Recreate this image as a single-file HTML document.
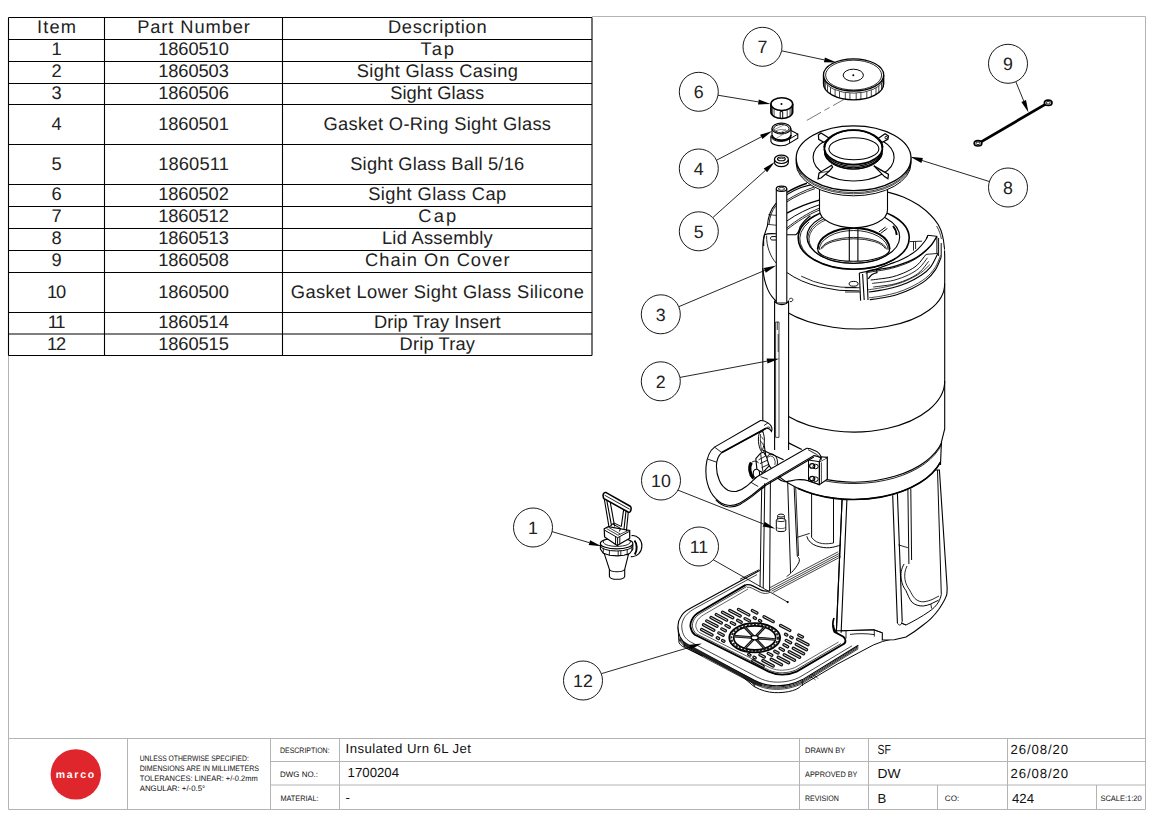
<!DOCTYPE html>
<html><head><meta charset="utf-8"><title>Insulated Urn 6L Jet</title>
<style>html,body{margin:0;padding:0;background:#fff}svg{display:block}text{white-space:pre;text-rendering:geometricPrecision}</style>
</head><body>
<svg width="1155" height="823" viewBox="0 0 1155 823">
<rect width="1155" height="823" fill="#fff"/>
<g stroke="#b4b4b4" stroke-width="1" fill="none">
<path d="M8.5 355 V809.5 H1145.5 V16.5 H592"/>
<path d="M8.5 738.5 H1145.5"/>
<path d="M127.5 738.5 V809.5 M270.5 738.5 V809.5 M339.5 738.5 V809.5 M799.5 738.5 V809.5 M868.5 738.5 V809.5 M1007.5 738.5 V809.5 M937.5 785 V809.5 M1096.5 785 V809.5"/>
<path d="M270.5 761.5 H1145.5 M270.5 785 H1145.5"/>
</g>
<g stroke="#000" stroke-width="1.1" fill="none">
<path d="M8.5 17.5H592M8.5 39.5H592M8.5 61.5H592M8.5 83.5H592M8.5 104.5H592M8.5 144.5H592M8.5 184.5H592M8.5 206.5H592M8.5 228.5H592M8.5 250.5H592M8.5 272.5H592M8.5 312.5H592M8.5 334H592M8.5 355.5H592M8.5 17.5V355.5M104.5 17.5V355.5M282.5 17.5V355.5M592 17.5V355.5"/>
</g>
<g font-family='"Liberation Sans", sans-serif' fill="#222">
<text x="37.0" y="33.4" font-size="18.3" text-anchor="start" textLength="39" lengthAdjust="spacing">Item</text>
<text x="137.2" y="33.4" font-size="18.3" text-anchor="start" textLength="112.7" lengthAdjust="spacing">Part Number</text>
<text x="387.9" y="33.4" font-size="18.3" text-anchor="start" textLength="98.7" lengthAdjust="spacing">Description</text>
<text x="56.5" y="55.4" font-size="18.3" text-anchor="middle">1</text>
<text x="158.2" y="55.4" font-size="18.3" text-anchor="start" textLength="70.6" lengthAdjust="spacing">1860510</text>
<text x="420.6" y="55.4" font-size="18.3" text-anchor="start" textLength="33.3" lengthAdjust="spacing">Tap</text>
<text x="56.5" y="77.4" font-size="18.3" text-anchor="middle">2</text>
<text x="158.2" y="77.4" font-size="18.3" text-anchor="start" textLength="70.6" lengthAdjust="spacing">1860503</text>
<text x="356.8" y="77.4" font-size="18.3" text-anchor="start" textLength="161" lengthAdjust="spacing">Sight Glass Casing</text>
<text x="56.5" y="98.9" font-size="18.3" text-anchor="middle">3</text>
<text x="158.2" y="98.9" font-size="18.3" text-anchor="start" textLength="70.6" lengthAdjust="spacing">1860506</text>
<text x="390.2" y="98.9" font-size="18.3" text-anchor="start" textLength="94" lengthAdjust="spacing">Sight Glass</text>
<text x="56.5" y="130.4" font-size="18.3" text-anchor="middle">4</text>
<text x="158.2" y="130.4" font-size="18.3" text-anchor="start" textLength="70.6" lengthAdjust="spacing">1860501</text>
<text x="323.5" y="130.4" font-size="18.3" text-anchor="start" textLength="227.5" lengthAdjust="spacing">Gasket O-Ring Sight Glass</text>
<text x="56.5" y="170.4" font-size="18.3" text-anchor="middle">5</text>
<text x="158.2" y="170.4" font-size="18.3" text-anchor="start" textLength="70.6" lengthAdjust="spacing">1860511</text>
<text x="350.2" y="170.4" font-size="18.3" text-anchor="start" textLength="174" lengthAdjust="spacing">Sight Glass Ball 5/16</text>
<text x="56.5" y="200.4" font-size="18.3" text-anchor="middle">6</text>
<text x="158.2" y="200.4" font-size="18.3" text-anchor="start" textLength="70.6" lengthAdjust="spacing">1860502</text>
<text x="368.2" y="200.4" font-size="18.3" text-anchor="start" textLength="138" lengthAdjust="spacing">Sight Glass Cap</text>
<text x="56.5" y="222.4" font-size="18.3" text-anchor="middle">7</text>
<text x="158.2" y="222.4" font-size="18.3" text-anchor="start" textLength="70.6" lengthAdjust="spacing">1860512</text>
<text x="418.2" y="222.4" font-size="18.3" text-anchor="start" textLength="38" lengthAdjust="spacing">Cap</text>
<text x="56.5" y="244.4" font-size="18.3" text-anchor="middle">8</text>
<text x="158.2" y="244.4" font-size="18.3" text-anchor="start" textLength="70.6" lengthAdjust="spacing">1860513</text>
<text x="381.9" y="244.4" font-size="18.3" text-anchor="start" textLength="110.7" lengthAdjust="spacing">Lid Assembly</text>
<text x="56.5" y="266.4" font-size="18.3" text-anchor="middle">9</text>
<text x="158.2" y="266.4" font-size="18.3" text-anchor="start" textLength="70.6" lengthAdjust="spacing">1860508</text>
<text x="365.1" y="266.4" font-size="18.3" text-anchor="start" textLength="144.4" lengthAdjust="spacing">Chain On Cover</text>
<text x="46.9" y="298.4" font-size="18.3" text-anchor="start" textLength="19.2" lengthAdjust="spacing">10</text>
<text x="158.2" y="298.4" font-size="18.3" text-anchor="start" textLength="70.6" lengthAdjust="spacing">1860500</text>
<text x="290.8" y="298.4" font-size="18.3" text-anchor="start" textLength="293" lengthAdjust="spacing">Gasket Lower Sight Glass Silicone</text>
<text x="47.8" y="328.1" font-size="18.3" text-anchor="start" textLength="17.5" lengthAdjust="spacing">11</text>
<text x="158.2" y="328.1" font-size="18.3" text-anchor="start" textLength="70.6" lengthAdjust="spacing">1860514</text>
<text x="373.9" y="328.1" font-size="18.3" text-anchor="start" textLength="126.8" lengthAdjust="spacing">Drip Tray Insert</text>
<text x="46.9" y="349.6" font-size="18.3" text-anchor="start" textLength="19.2" lengthAdjust="spacing">12</text>
<text x="158.2" y="349.6" font-size="18.3" text-anchor="start" textLength="70.6" lengthAdjust="spacing">1860515</text>
<text x="399.6" y="349.6" font-size="18.3" text-anchor="start" textLength="75.3" lengthAdjust="spacing">Drip Tray</text>
</g>
<g font-family='"Liberation Sans", sans-serif' fill="#111">
<text x="139.7" y="760.7" font-size="7.9" text-anchor="start" textLength="109.1" lengthAdjust="spacingAndGlyphs">UNLESS OTHERWISE SPECIFIED:</text>
<text x="139.7" y="770.9" font-size="7.9" text-anchor="start" textLength="119.3" lengthAdjust="spacingAndGlyphs">DIMENSIONS ARE IN MILLIMETERS</text>
<text x="139.7" y="781" font-size="7.9" text-anchor="start" textLength="118.0" lengthAdjust="spacingAndGlyphs">TOLERANCES: LINEAR: +/-0.2mm</text>
<text x="139.7" y="791" font-size="7.9" text-anchor="start" textLength="65.5" lengthAdjust="spacingAndGlyphs">ANGULAR: +/-0.5°</text>
<text x="280" y="752.8" font-size="7.9" text-anchor="start" textLength="49.6" lengthAdjust="spacingAndGlyphs">DESCRIPTION:</text>
<text x="280" y="777" font-size="7.9" text-anchor="start" textLength="38" lengthAdjust="spacingAndGlyphs">DWG NO.:</text>
<text x="280.4" y="801" font-size="7.9" text-anchor="start" textLength="38.2" lengthAdjust="spacingAndGlyphs">MATERIAL:</text>
<text x="345.6" y="753" font-size="13.2" text-anchor="start" textLength="125.4" lengthAdjust="spacing">Insulated Urn 6L Jet</text>
<text x="347.6" y="776.7" font-size="13.2" text-anchor="start" textLength="51.4" lengthAdjust="spacing">1700204</text>
<text x="345.6" y="801.5" font-size="13.2" text-anchor="start">-</text>
<text x="805" y="752.7" font-size="7.9" text-anchor="start" textLength="40.3" lengthAdjust="spacingAndGlyphs">DRAWN BY</text>
<text x="805" y="776.9" font-size="7.9" text-anchor="start" textLength="52.5" lengthAdjust="spacingAndGlyphs">APPROVED BY</text>
<text x="805" y="801" font-size="7.9" text-anchor="start" textLength="33.8" lengthAdjust="spacingAndGlyphs">REVISION</text>
<text x="877.6" y="753.8" font-size="13.2" text-anchor="start" textLength="13.3" lengthAdjust="spacingAndGlyphs">SF</text>
<text x="877.6" y="777.8" font-size="13.2" text-anchor="start" textLength="23.0" lengthAdjust="spacingAndGlyphs">DW</text>
<text x="877.6" y="802.6" font-size="13.2" text-anchor="start">B</text>
<text x="944.8" y="801" font-size="7.9" text-anchor="start" textLength="14.4" lengthAdjust="spacingAndGlyphs">CO:</text>
<text x="1010.6" y="754.4" font-size="13.2" text-anchor="start" textLength="57.4" lengthAdjust="spacing">26/08/20</text>
<text x="1010.6" y="778.4" font-size="13.2" text-anchor="start" textLength="57.4" lengthAdjust="spacing">26/08/20</text>
<text x="1012" y="802.6" font-size="13.2" text-anchor="start" textLength="22" lengthAdjust="spacing">424</text>
<text x="1100.4" y="801" font-size="7.9" text-anchor="start" textLength="41.3" lengthAdjust="spacingAndGlyphs">SCALE:1:20</text>
</g>
<circle cx="75.8" cy="774.4" r="25.2" fill="#e0262d"/>
<text x="75.8" y="777.6" font-family='"Liberation Sans", sans-serif' font-weight="bold" font-size="10.5" fill="#fff" text-anchor="middle" letter-spacing="1.7">marco</text>
<path d="M678 626.8L679 642.7C680.5 646.4 683 649 686.9 650.7L754.7 686.6C761 690.4 768 692.4 774.6 692.6C780 692.8 784.6 692.4 788.6 691.6C794 690.6 798.6 688.8 802.5 686.6L882.3 642.7V636L758.7 571L690.9 607.9Z" fill="#fff" stroke="none" stroke-width="0"/>
<path d="M678 626.8L679 642.7C680.5 645 682 646.4 684.2 647.2L702.8 656M740 674.6L754.2 686.6C761 690.4 768 692.4 774.6 692.6C780 692.8 784.6 692.4 788.6 691.6C794 690.6 798.6 688.8 801.5 685.4L837.5 664L873.5 644.9L882.5 641.5L900 637" fill="none" stroke="#000" stroke-width="0.98"/>
<path d="M754.7 680.6V686.6M802.5 679.6V686M684.4 643V647" fill="none" stroke="#000" stroke-width="0.73"/>
<path d="M754.7 686.6C753 683 750 680 746 678.6M806 673C812 674 816 676 818 678.6M809 676.6C812 677.6 814 678.6 815.6 680" fill="none" stroke="#000" stroke-width="0.73"/>
<path d="M758.7 571L690.9 607.9C685 611 682 614 680.9 616.8C678.6 620 677.8 623.4 678 626.8C678 630.6 678.6 633.8 680 636.8C681.6 640 684 642.6 686.9 644.7L754.7 680.6C760.6 683.6 766.6 685.2 772.6 685.6C778 686 783.6 685.6 788.6 684.6C794 683.4 798.6 681.8 802.5 679.6L858.3 645.2" fill="#fff" stroke="#000" stroke-width="1.1"/>
<path d="M679.6 637.8C681.6 641.2 684 643.8 686.9 645.9L754.7 681.8C760.6 684.8 766.6 686.4 772.6 686.8C778 687.2 783.6 686.8 788.6 685.8C794 684.6 798.6 683 802.5 680.8L858.3 646.4" fill="none" stroke="#000" stroke-width="0.85"/>
<path d="M679.3 638.7C681.6 642.4 684 645 686.9 647.1L754.7 683C760.6 686 766.6 687.6 772.6 688C778 688.4 783.6 688 788.6 687C794 685.8 798.6 684.2 802.5 682L858.3 647.6" fill="none" stroke="#000" stroke-width="0.85"/>
<path d="M678.9 639.7C681.6 643.6 684 646.2 686.9 648.3L754.7 684.2C760.6 687.2 766.6 688.8 772.6 689.2C778 689.6 783.6 689.2 788.6 688.2C794 687 798.6 685.4 802.5 683.2L858.3 648.8" fill="none" stroke="#000" stroke-width="0.73"/>
<path d="M683 641.4L754.7 680.6C757 681.8 759 682.6 761 683.4L761.6 686C759 685.4 756.6 684.6 754.2 683.6L684.6 645.6Z" fill="#222" stroke="#000" stroke-width="0.49"/>
<path d="M757 574.6L694.6 608.6C688 612.4 685 616 683.6 619C682 622 681.6 625 681.8 627.6C682 631 683 634 684.6 636.6C686 638.6 688 640.4 690.4 641.8L757 677C763 680 768 681.6 773.6 682C779 682.4 784 682 788.6 681C793.6 680 797.6 678.4 801 676.4L852 645.8" fill="none" stroke="#000" stroke-width="0.73"/>
<path d="M745.7 584.9L699.9 611.8C695.6 614.2 693.2 616.8 691.9 619.8C690.6 622.2 690.2 624.6 690.5 626.8C691 630 692.4 632.6 694.9 634.8L768.6 671.6C773.6 673.8 778 674.8 782.6 674.6C788 674.4 792.6 673.4 796.6 671.6L842.4 644.7C844.6 643.6 845.6 642.2 845.4 640.7C845.4 639 844.6 637.8 843.4 636.8L834.4 631.8C833.4 629.6 833.2 627 833.4 624.8" fill="none" stroke="#000" stroke-width="1.83"/>
<path d="M748 589L703.6 614.8C700 617 698 619.2 696.8 621.6C696 623.4 695.6 625.2 695.9 626.8C696.4 629 697.4 630.8 699.2 632.4L770.2 667.8C774.4 669.6 778.6 670.4 782.6 670.2C787.4 670 791.4 669 794.8 667.6L838.6 642" fill="none" stroke="#000" stroke-width="0.61"/>
<path d="M746.6 586.6L701 613C697 615.4 695 617.8 693.6 620.4C692.6 622.6 692.2 624.8 692.5 626.8C693 629.6 694.2 631.8 696.4 633.8L769.2 670.2C773.8 672.2 778.2 673 782.6 672.8C787.8 672.6 792.2 671.6 795.8 670L841 643.6" fill="none" stroke="#000" stroke-width="0.73"/>
<path d="M745.7 584.9C748 584.4 750.6 584.8 752.7 585.9L760.7 589.9C763.6 591.2 766 591.4 768.6 590.9L770.5 589.7" fill="none" stroke="#000" stroke-width="1.22"/>
<path d="M747 587.4C749 587 750.6 587.4 752.4 588.4L760.4 592.4C763.6 593.8 767 593.8 770 592.4" fill="none" stroke="#000" stroke-width="0.73"/>
<path d="M758.7 571L770 566" fill="none" stroke="#000" stroke-width="0.98"/>
<path d="M701.6 629.5L712 635M703.5 624.8L713.8 630.3M706.7 620.9L717 626.3M711 617.5L721.3 623M716.3 614.6L726.6 620.1M722.5 612.3L732.8 617.7M729.8 610.5L740.2 616M738.5 609.4L748.8 614.9M752.8 660.8L763.1 666.3M762.9 660.5L773.2 666M771.2 659.3L781.5 664.7M778.2 657.3L788.6 662.8M784.2 654.8L794.5 660.3M789.2 651.8L799.6 657.3M793.3 648.3L803.6 653.8M796.2 644.2L806.5 649.7M797.6 639.3L808 644.8M752.4 610.6L756.9 613M764 616.7L773.2 621.6M780.6 625.5L789.8 630.4M798.8 635.1L802.4 637M717.3 637.8L718.6 638.5M722.6 640.6L723.9 641.3M748.7 654.4L749.9 655.1M754 657.2L755.2 657.9M718.8 632.9L723.2 635.2M759.9 654.7L764.3 657M721.8 628.9L725.4 630.8M768.2 653.4L771.8 655.3M726 625.4L729.3 627.2M774.8 651.3L778.1 653M731.3 622.6L734.6 624.3M780.1 648.4L783.4 650.2M737.6 620.3L741.2 622.2M784 644.8L787.6 646.7M745.1 618.6L749.5 620.9M786.2 640.4L790.6 642.7M754.2 617.7L755.4 618.4M759.5 620.5L760.7 621.2M785.5 634.3L786.8 635M790.8 637.1L792.1 637.8" fill="none" stroke="#111" stroke-width="3.3" stroke-linecap="round"/>
<path d="M701.6 629.5L712 635M703.5 624.8L713.8 630.3M706.7 620.9L717 626.3M711 617.5L721.3 623M716.3 614.6L726.6 620.1M722.5 612.3L732.8 617.7M729.8 610.5L740.2 616M738.5 609.4L748.8 614.9M752.8 660.8L763.1 666.3M762.9 660.5L773.2 666M771.2 659.3L781.5 664.7M778.2 657.3L788.6 662.8M784.2 654.8L794.5 660.3M789.2 651.8L799.6 657.3M793.3 648.3L803.6 653.8M796.2 644.2L806.5 649.7M797.6 639.3L808 644.8M752.4 610.6L756.9 613M764 616.7L773.2 621.6M780.6 625.5L789.8 630.4M798.8 635.1L802.4 637M717.3 637.8L718.6 638.5M722.6 640.6L723.9 641.3M748.7 654.4L749.9 655.1M754 657.2L755.2 657.9M718.8 632.9L723.2 635.2M759.9 654.7L764.3 657M721.8 628.9L725.4 630.8M768.2 653.4L771.8 655.3M726 625.4L729.3 627.2M774.8 651.3L778.1 653M731.3 622.6L734.6 624.3M780.1 648.4L783.4 650.2M737.6 620.3L741.2 622.2M784 644.8L787.6 646.7M745.1 618.6L749.5 620.9M786.2 640.4L790.6 642.7M754.2 617.7L755.4 618.4M759.5 620.5L760.7 621.2M785.5 634.3L786.8 635M790.8 637.1L792.1 637.8" fill="none" stroke="#e4e4e4" stroke-width="0.92" stroke-linecap="round"/>
<ellipse cx="754.7" cy="637.8" rx="25.4" ry="14.6" fill="#fff" stroke="#000" stroke-width="1.83"/>
<ellipse cx="754.7" cy="637.8" rx="23.3" ry="13.3" fill="none" stroke="#222" stroke-width="2" stroke-dasharray="2.2 1.4"/>
<ellipse cx="754.7" cy="637.8" rx="21" ry="12" fill="none" stroke="#000" stroke-width="1.71"/>
<path d="M757.7 638.1L775.5 639.5M756.1 639.4L764.6 648.4M753.3 639.4L744.8 648.4M751.7 637.5L733.9 636.1M753.3 636.2L744.8 627.2M756.1 636.2L764.6 627.2" fill="none" stroke="#111" stroke-width="2.7"/>
<path d="M757.7 638.1L775.5 639.5M756.1 639.4L764.6 648.4M753.3 639.4L744.8 648.4M751.7 637.5L733.9 636.1M753.3 636.2L744.8 627.2M756.1 636.2L764.6 627.2" fill="none" stroke="#888" stroke-width="0.73"/>
<ellipse cx="754.7" cy="637.8" rx="3.6" ry="2.1" fill="#fff" stroke="#000" stroke-width="1.22"/>
<path d="M939.4 470L947.1 586.9C947.2 592 946.4 596 946.1 596.4C944 602 941 606 938.5 609.8C934 616 929 621 923.2 625C917 630 911 634 906 637L894.2 639.7L882.3 640V632.8L874 629.8L842 630.8L836.4 630.8L842.1 499L850 470Z" fill="#fff" stroke="#000" stroke-width="1.1"/>
<path d="M937.5 470L941.3 594.5C940.5 598 939.6 600 938.5 602.1C936 606 933 609 928.9 611.7C922 616.5 914 621 906 625L901.3 623.1" fill="none" stroke="#000" stroke-width="0.98"/>
<path d="M904.1 564C901 569 900.5 574 901.3 579.2C902 584 903.5 587.5 906 590.7C907.8 595 909.5 599 911.8 602.1C915 605 919 606.2 923.2 606C926 605.6 928.5 605 930.8 604L938.5 600.2" fill="none" stroke="#000" stroke-width="0.98"/>
<path d="M907 566C904.6 571 904.4 575 905 579.6C905.8 584 907.4 587 909.6 590C911.4 593.6 913 596.4 915 598.6C917.6 601 920.6 602 924 601.8C927 601.4 929.6 600.6 932 599.6L939 596" fill="none" stroke="#000" stroke-width="0.85"/>
<path d="M930.8 604L931.6 608.5M898.4 544.9L907.9 547.7" fill="none" stroke="#000" stroke-width="0.85"/>
<path d="M907.9 489.5L908.9 564M910.8 488.6L911.6 560" fill="none" stroke="#000" stroke-width="0.98"/>
<path d="M842.1 499.1L836.4 630.8M846.9 500L841.1 632.7M892.7 495.3L897.4 623.1M897.4 493.4L902.2 621.2" fill="none" stroke="#000" stroke-width="1.1"/>
<path d="M897.4 623.1C899 626 901.5 626 902.2 621.2M901.3 623.1L906 625" fill="none" stroke="#000" stroke-width="0.85"/>
<path d="M841.1 630.8L873.6 629.8L882.3 632.8M846 631V638.6M874.3 630V636.6M850 634.4C858 633.4 866 633.4 874.3 634.6" fill="none" stroke="#000" stroke-width="0.85"/>
<path d="M834 618C832.5 622 832.6 626 834 629C835 631 836 632.4 837.3 632.7" fill="none" stroke="#000" stroke-width="1.71"/>
<path d="M811.6 491.5V537.3M833.5 497V543" fill="none" stroke="#000" stroke-width="0.98"/>
<path d="M806.8 536.3C808 541 812 544.4 816.3 545.8C821 547.4 825.5 548 829.7 547.7C834 547.2 838 546 841 544.9" fill="none" stroke="#000" stroke-width="0.98"/>
<path d="M811.6 537.3C814 541 818 543 822.5 543.6C826.5 544 830.5 543.6 833.5 543" fill="none" stroke="#000" stroke-width="0.85"/>
<path d="M762 470L760 586.9L769.6 590.7L770.5 470Z" fill="#fff" stroke="none" stroke-width="0"/>
<path d="M787.3 470L790.6 573.5L797.3 560L793.4 470Z" fill="#fff" stroke="none" stroke-width="0"/>
<path d="M762 470L760 586.9M770.5 470L769.6 590.7M765 470L763.2 588" fill="none" stroke="#000" stroke-width="0.98"/>
<path d="M787.3 470L790.6 573.5M793.4 470L797.3 556.3C799.6 558 800 560.5 798.6 563C797 566 794.5 569.5 791.5 572.5" fill="none" stroke="#000" stroke-width="0.98"/>
<path d="M795 470L798.6 556M790.6 573.5L786.6 576.6" fill="none" stroke="#000" stroke-width="0.85"/>
<path d="M770.5 589.7L839.2 553.5M771.6 591.2L840.2 555M772.8 592.6L841 556.6M770 587.6L838.2 551.8" fill="none" stroke="#000" stroke-width="0.73"/>
<path d="M797.3 537.3L809.7 533.4M740 579.2L759.1 569.7" fill="none" stroke="#000" stroke-width="0.85"/>
<path d="M762.8 436V248C762.8 242 763.4 238 764.5 234.7L767.4 226C768 216 771 209 775.8 203.6C783 196 792 191 801 187.5C830 178 866 182 887.8 192.1C893 193.4 898 195 903.3 197C909 199.4 914 202 918.9 205.3C923 208.2 927 211.4 930.5 215C933.6 218 936 221.2 938.3 224.7C940 227.8 941.4 231 942.2 234.4C943.4 238.6 944 243 944.4 248L944.7 256V429L941.4 442L940.5 465L940.5 462.1A91 53.5 0 0 1 766.7 461.6Z" fill="#fff" stroke="#000" stroke-width="1.1"/>
<path d="M940.5 462.1A91 53.5 0 0 1 797.7 488.2" fill="none" stroke="#000" stroke-width="1.59"/>
<path d="M941.8 442.3A91 53 0 0 1 819.6 478.1" fill="none" stroke="#000" stroke-width="1.1"/>
<path d="M941.6 444.3A91 53 0 0 1 819.6 479.7" fill="none" stroke="#000" stroke-width="0.85"/>
<path d="M944.7 381A91 51 0 0 1 787.1 415.8" fill="none" stroke="#000" stroke-width="1.1"/>
<path d="M944.6 283.5A91 47 2 0 1 786.1 311.7" fill="none" stroke="#000" stroke-width="1.1"/>
<path d="M762.8 268C764 282 768 295 777.4 302" fill="none" stroke="#000" stroke-width="1.1"/>
<path d="M859.7 290.9A86 50 0 0 1 786.9 272.5" fill="none" stroke="#000" stroke-width="0.98"/>
<path d="M856.5 287.6A80 46.6 0 0 1 801.2 276.2" fill="none" stroke="#000" stroke-width="0.85"/>
<path d="M936.6 226C939 230 940.6 234.4 941.4 239" fill="none" stroke="#000" stroke-width="0.73"/>
<path d="M787 192.3C793 188.6 800 185.6 806.9 183.2" fill="none" stroke="#000" stroke-width="1.46"/>
<path d="M787 200.1C795 195 804 190.6 813.9 187.1M787 201.8C795 196.6 805 192 815 188.6" fill="none" stroke="#000" stroke-width="0.85"/>
<path d="M787 213.1C797 207.5 808 203.2 819.1 200.1" fill="none" stroke="#000" stroke-width="1.46"/>
<path d="M787 220.9C797 214 808 208.5 819.1 204.9" fill="none" stroke="#000" stroke-width="0.98"/>
<path d="M787 227.8C797 220 808 212.8 819.1 208.3M787 229.6C797 221.8 808 214.6 819.1 210.2" fill="none" stroke="#000" stroke-width="0.85"/>
<path d="M769 224.4C769.6 216.6 772 210.4 776 205.6" fill="none" stroke="#000" stroke-width="0.85"/>
<path d="M768.4 214.6L776 215.4M767.8 224.4L776 225.2" fill="none" stroke="#000" stroke-width="0.73"/>
<path d="M787 234.7H795.7C798.6 233.6 799.2 230 800 227C802.5 222.6 806 219 810.4 215.7" fill="none" stroke="#000" stroke-width="1.1"/>
<path d="M776 233.8C771 233.4 767 233.6 764.5 234.7C763.6 238 763.3 242 763.7 246" fill="none" stroke="#000" stroke-width="1.1"/>
<path d="M776 236.6H771.8C770 237 770 239.6 771.8 240H776" fill="none" stroke="#000" stroke-width="0.98"/>
<path d="M766.6 235.6C766.4 246 770 256 776 263" fill="none" stroke="#000" stroke-width="0.85"/>
<ellipse cx="853.7" cy="238" rx="55.5" ry="31.2" fill="#fff" stroke="#000" stroke-width="1.59"/>
<path d="M895.3 258.7A54.3 30.4 0 0 1 809.2 221.8" fill="none" stroke="#000" stroke-width="0.85"/>
<ellipse cx="853.3" cy="237" rx="46.4" ry="26.5" fill="none" stroke="#000" stroke-width="1.1"/>
<path d="M824.1 257.8A45.4 25.6 0 0 1 837.8 214.1" fill="none" stroke="#000" stroke-width="0.85"/>
<path d="M815 251.5A44.2 24.6 0 0 1 827.9 219" fill="none" stroke="#000" stroke-width="0.73"/>
<path d="M817.7 249A36 21 0 0 1 889.7 249" fill="none" stroke="#000" stroke-width="1.83"/>
<path d="M819.2 250A34.5 19.5 0 0 1 888.2 250" fill="none" stroke="#000" stroke-width="0.85"/>
<path d="M820.8 249.4A33 13 0 0 1 886.6 249.4" fill="none" stroke="#000" stroke-width="0.85"/>
<path d="M822.2 248.5A32 11.8 0 0 1 885.2 248.5" fill="none" stroke="#000" stroke-width="0.85"/>
<path d="M889.7 249A36 12.3 0 0 1 817.7 249" fill="none" stroke="#000" stroke-width="1.1"/>
<path d="M889.7 251.5A36.6 14.2 0 0 1 817.7 251.5" fill="none" stroke="#000" stroke-width="0.85"/>
<path d="M849.3 229.2V261M857.9 229.2V261" fill="none" stroke="#000" stroke-width="1.1"/>
<path d="M878.9 232L885.7 227M880.6 233.4L887.4 228.4" fill="none" stroke="#000" stroke-width="0.98"/>
<path d="M893 226C895.5 229 896.5 232 896.6 235" fill="none" stroke="#000" stroke-width="1.83"/>
<ellipse cx="853.6" cy="283.8" rx="4.5" ry="2.4" fill="none" stroke="#000" stroke-width="0.98"/>
<path d="M936.9 236.3C935.9 237.9 933.3 242.8 930.7 245.8C928.1 248.8 924.4 252 921.2 254.4C918 256.8 914.9 258.5 911.7 260.1C908.5 261.7 905.3 262.8 902.1 263.9C898.9 265 895.8 266 892.6 266.8C889.4 267.6 886.3 268.1 883.1 268.7C879.9 269.2 876.3 269.6 873.6 270.1C870.9 270.6 868 271.3 866.9 271.5L859.3 273L859.6 301L869.8 299.6C872 299.3 878.5 298.6 883.1 297.7C887.7 296.8 892.6 295.9 897.4 294.4C902.2 292.9 906.9 291.1 911.7 288.7C916.5 286.3 922 283.3 926 280.1C930 276.9 933 273.4 935.5 269.6C938 265.8 940.2 259.3 941.2 257.2L944.7 250Z" fill="#fff" stroke="none" stroke-width="0"/>
<path d="M936.9 236.3C935.9 237.9 933.3 242.8 930.7 245.8C928.1 248.8 924.4 252 921.2 254.4C918 256.8 914.9 258.5 911.7 260.1C908.5 261.7 905.3 262.8 902.1 263.9C898.9 265 895.8 266 892.6 266.8C889.4 267.6 886.3 268.1 883.1 268.7C879.9 269.2 876.3 269.6 873.6 270.1C870.9 270.6 868 271.3 866.9 271.5" fill="none" stroke="#000" stroke-width="1.34"/>
<path d="M929.4 247.4C927.8 248.8 923.1 253.6 919.9 256C916.7 258.4 913.6 260.1 910.4 261.7C907.2 263.3 904 264.4 900.8 265.5C897.6 266.6 894.5 267.6 891.3 268.4C888.1 269.2 885 269.8 881.8 270.3C878.6 270.9 875 271.2 872.3 271.7C869.6 272.2 866.7 272.9 865.6 273.1" fill="none" stroke="#000" stroke-width="0.85"/>
<path d="M927.9 235.3C927.4 236.2 926.8 238.6 925 241C923.2 243.4 920.2 247 917.4 249.6C914.5 252.2 911.1 254.4 907.9 256.3C904.7 258.2 901.5 259.6 898.3 261C895.1 262.4 892.4 263 888.8 264.4C885.1 265.8 878.5 268.3 876.4 269.1" fill="none" stroke="#000" stroke-width="1.1"/>
<path d="M926 254.4C924.6 256.1 920.6 262 917.4 264.9C914.2 267.8 911 269.5 906.9 271.5C902.8 273.5 897.4 275.5 892.6 276.8C887.8 278.1 881.9 278.6 878.3 279.1C874.6 279.6 872 279.9 870.7 280" fill="none" stroke="#000" stroke-width="0.98"/>
<path d="M927.5 257.8C926.1 259.6 922.1 265.4 918.9 268.3C915.7 271.1 912.5 272.9 908.4 274.9C904.3 276.9 898.9 278.9 894.1 280.2C889.3 281.5 883.4 282 879.8 282.5C876.1 283 873.5 283.2 872.2 283.4" fill="none" stroke="#000" stroke-width="0.85"/>
<path d="M928.6 261.4C927.2 263.1 923.2 269 920 271.9C916.8 274.8 913.6 276.5 909.5 278.5C905.4 280.5 900 282.5 895.2 283.8C890.4 285.1 884.5 285.6 880.9 286.1C877.2 286.6 874.6 286.9 873.3 287" fill="none" stroke="#000" stroke-width="0.85"/>
<path d="M937.9 253.4C936.7 255.6 933.5 263.2 930.7 266.8C927.9 270.4 925.2 272.6 921.2 275.3C917.2 278 911.7 280.9 906.9 283C902.1 285.1 897.4 286.4 892.6 287.7C887.8 289 882.3 289.9 878.3 290.6C874.3 291.3 870.4 291.8 868.8 292" fill="none" stroke="#000" stroke-width="1.1"/>
<path d="M929.9 264.6C928.3 266 924.4 270.4 920.4 273.1C916.4 275.8 910.9 278.7 906.1 280.8C901.3 282.9 896.6 284.2 891.8 285.5C887 286.8 881.5 287.7 877.5 288.4C873.5 289.1 869.6 289.6 868 289.8" fill="none" stroke="#000" stroke-width="0.73"/>
<path d="M941.2 257.2C940.2 259.3 938 265.8 935.5 269.6C933 273.4 930 276.9 926 280.1C922 283.3 916.5 286.3 911.7 288.7C906.9 291.1 902.2 292.9 897.4 294.4C892.6 295.9 887.7 296.8 883.1 297.7C878.5 298.6 872 299.3 869.8 299.6" fill="none" stroke="#000" stroke-width="1.1"/>
<path d="M940.6 255.4C939.6 257.5 937.4 264 934.9 267.8C932.4 271.6 929.4 275.1 925.4 278.3C921.4 281.5 915.9 284.5 911.1 286.9C906.3 289.3 901.6 291.1 896.8 292.6C892 294.1 887.1 295 882.5 295.9C877.9 296.8 871.4 297.5 869.2 297.8" fill="none" stroke="#000" stroke-width="0.73"/>
<path d="M927.9 235.3L936.9 236.3M936.9 236.3V253M938.6 238V256M941.2 243V257.2M927.9 235.3L926.6 238.6" fill="none" stroke="#000" stroke-width="0.98"/>
<path d="M926 254.4L937.9 253.4" fill="none" stroke="#000" stroke-width="0.85"/>
<path d="M909.6 241.6L922 241.2M913.5 241.5V250.6M915.6 241.5V249" fill="none" stroke="#000" stroke-width="0.85"/>
<path d="M859.3 273L866.9 271.5L868 300M859.3 273L860.6 300.6M862.6 274L864.2 300M866.9 271.5C870 270 873.5 269.6 876.4 269.1L877 272.6C873 273.4 870 275.5 868.3 279" fill="none" stroke="#000" stroke-width="1.1"/>
<path d="M845 287.7H859.8M845 292H860.2" fill="none" stroke="#000" stroke-width="0.85"/>
<path d="M819.5 180V210A34 17.8 0 0 0 887.5 210V180Z" fill="#fff" stroke="#000" stroke-width="1.1"/>
<path d="M796.2 158.2V163.4A57.4 32.4 0 0 0 911 163.4V158.2Z" fill="#fff" stroke="#000" stroke-width="0.98"/>
<path d="M910.9 162.1A57.4 32.4 0 0 1 796.3 162.1" fill="none" stroke="#000" stroke-width="0.73"/>
<path d="M910.9 163.3A57.4 32.4 0 0 1 796.3 163.3" fill="none" stroke="#000" stroke-width="0.73"/>
<ellipse cx="853.6" cy="158.2" rx="57.4" ry="32.4" fill="#fff" stroke="#000" stroke-width="1.22"/>
<ellipse cx="853.6" cy="157.4" rx="40.5" ry="23.6" fill="none" stroke="#000" stroke-width="1.1"/>
<path d="M818.4 134.9L821 133L829.8 138.4L823.8 142.2L818.7 139.4Z" fill="#fff" stroke="#000" stroke-width="1.22"/>
<path d="M821 133L826.5 136.6" fill="none" stroke="#000" stroke-width="0.12"/>
<path d="M877.8 138.8L885.1 133.8L888.5 136L887.9 139.4L882.3 142.2Z" fill="#fff" stroke="#000" stroke-width="1.22"/>
<ellipse cx="886.2" cy="137.6" rx="1.2" ry="1.4" fill="none" stroke="#000" stroke-width="0.98"/>
<path d="M831.6 165.3L819 173.1L818.1 178.8L821 178L829.4 171L832.6 167.2Z" fill="#fff" stroke="#000" stroke-width="1.22"/>
<path d="M819 173.1L829.4 171" fill="none" stroke="#000" stroke-width="0.73"/>
<path d="M873.8 165.8L888.5 174.3L887.9 178.8L884.5 176.6L876.6 168.6Z" fill="#fff" stroke="#000" stroke-width="1.22"/>
<path d="M888.5 174.3L878 169" fill="none" stroke="#000" stroke-width="0.73"/>
<ellipse cx="853.4" cy="149.6" rx="29.1" ry="19.4" fill="#fff" stroke="#000" stroke-width="1.22"/>
<path d="M882.4 145.9A29.1 17.2 0 1 1 824.4 145.9" fill="none" stroke="#000" stroke-width="1.59"/>
<path d="M882.2 151.4A29.1 17.2 0 0 1 824.6 151.4" fill="none" stroke="#000" stroke-width="1.1"/>
<path d="M882.2 153A29.1 17.2 0 0 1 824.6 153" fill="none" stroke="#000" stroke-width="1.1"/>
<path d="M882.2 154.4A29.1 17.2 0 0 1 824.6 154.4" fill="none" stroke="#000" stroke-width="0.98"/>
<path d="M824.3 147.4A29.1 17.2 0 0 1 882.5 147.4" fill="none" stroke="#000" stroke-width="1.83"/>
<ellipse cx="853.9" cy="148.7" rx="25" ry="11" fill="none" stroke="#000" stroke-width="1.1"/>
<path d="M776.3 188.8V303H786.8V188.8Z" fill="#fff" stroke="#000" stroke-width="1.1"/>
<ellipse cx="781.5" cy="188.8" rx="5.2" ry="2.7" fill="#fff" stroke="#000" stroke-width="1.1"/>
<ellipse cx="781.5" cy="188.9" rx="3.1" ry="1.4" fill="none" stroke="#000" stroke-width="0.85"/>
<path d="M774.6 300.6C775.5 303 778.5 304.6 781.9 304.6C785 304.6 787.6 303.2 788.6 300.6V450H774.6Z" fill="#fff" stroke="none" stroke-width="0"/>
<path d="M774.6 450V300.6C775.5 303 778.5 304.6 781.9 304.6C785 304.6 787.6 303.2 788.6 300.6V450" fill="none" stroke="#000" stroke-width="1.1"/>
<path d="M789 299.4C790.6 297.6 792.6 298 792.8 299.6C792.9 301 791.6 302 790 301.6" fill="none" stroke="#000" stroke-width="0.85"/>
<path d="M775.6 437.4V322H779V437.4ZM777.3 322V330M778.2 334V352" fill="none" stroke="#000" stroke-width="0.73"/>
<path d="M776.3 520V530A4.7 1.6 0 0 0 785.8 530V520" fill="#fff" stroke="#000" stroke-width="0.98"/>
<path d="M785.7 520A4.7 1.6 0 1 1 776.3 520A4.7 1.6 0 1 1 785.7 520Z" fill="#fff" stroke="#000" stroke-width="0.85"/>
<path d="M777.6 516V519.6M784.4 516V519.6" fill="none" stroke="#000" stroke-width="0.85"/>
<ellipse cx="781" cy="515.6" rx="3.4" ry="1.5" fill="#fff" stroke="#000" stroke-width="0.98"/>
<path d="M785.7 527A4.7 1.6 0 0 1 776.3 527" fill="none" stroke="#000" stroke-width="0.61"/>
<path d="M763 450.2L783.6 459.8M788.5 442.9L801.8 449.5" fill="none" stroke="#000" stroke-width="1.22"/>
<path d="M766.3 466.5A6 8.4 0 1 1 776.1 467.7" fill="none" stroke="#000" stroke-width="0.98"/>
<path d="M766.3 464.9A4.6 6.6 0 1 1 774.9 464.9" fill="none" stroke="#000" stroke-width="0.73"/>
<path d="M759.6 432.4C757.6 437 758 446 761.4 451.6C764.6 447 765.6 437 762.6 431.6Z" fill="#fff" stroke="#000" stroke-width="0.98"/>
<path d="M760.6 434C760 440 760.6 446 761.6 450M761.4 436.6L763.4 439.6M760.4 440.6L763.4 445" fill="none" stroke="#000" stroke-width="0.73"/>
<path d="M755.8 458.6L760.6 453.2L763.6 452L766.7 457.4L769.1 465.9L763 472.4L757 470Z" fill="#fff" stroke="#000" stroke-width="1.1"/>
<path d="M758.6 459.8L765.4 456.2M760 463.6L767.4 460.2M761.6 467.6L768.6 464.4M760.6 453.2L762.8 471" fill="none" stroke="#000" stroke-width="0.85"/>
<path d="M751.3 462.6C748.6 467 749.6 474.6 753.6 478.4" fill="none" stroke="#000" stroke-width="3.2"/>
<path d="M751.6 462.4C754 460.4 757.6 461 758.6 463.2M753.8 478.6C756.6 479.2 759.6 477.6 760.6 475.2" fill="none" stroke="#000" stroke-width="0.98"/>
<ellipse cx="756.4" cy="473.4" rx="3.2" ry="4.2" fill="#fff" stroke="#000" stroke-width="1.1"/>
<path d="M808.5 460L819.4 461.7V484.7L808.5 481Z" fill="#fff" stroke="#000" stroke-width="0.98"/>
<path d="M819.4 461.7L827.3 457.4V479.2L819.4 484.7Z" fill="#fff" stroke="#000" stroke-width="1.22"/>
<path d="M819.4 461.7L821.2 456.8L827.3 457.4" fill="#fff" stroke="#000" stroke-width="1.1"/>
<path d="M821.4 462.4V483.4" fill="none" stroke="#000" stroke-width="0.73"/>
<ellipse cx="812.2" cy="465.9" rx="2.6" ry="2.3" fill="none" stroke="#000" stroke-width="1.22"/>
<ellipse cx="815.6" cy="466.5" rx="2.6" ry="2.3" fill="none" stroke="#000" stroke-width="0.98"/>
<ellipse cx="812.2" cy="478.6" rx="2.6" ry="2.3" fill="none" stroke="#000" stroke-width="1.22"/>
<ellipse cx="815.6" cy="479.2" rx="2.6" ry="2.3" fill="none" stroke="#000" stroke-width="0.98"/>
<path d="M819.4 484.7C816 483.4 812 481.6 809.1 481.1C805 479.8 801 479.4 797 479.8C792 480.6 788 481.6 784.8 481.7C781 481 779 479.4 777.6 478" fill="none" stroke="#000" stroke-width="1.1"/>
<path d="M760.6 420.5L714.5 447.1C710 450.5 707 457 706.1 465.9C705.6 473 705.8 478 707.3 482.9C709 489.6 711.6 494.6 715.8 498.6C719.4 502.4 723 504.6 727.9 505.3C732 505.8 736 505 740 502.9C744.4 500.6 748 498 752.1 495L765.5 484.1L813.9 455.6C817 456 819.6 456.6 821.2 458.6C821 455 818 451.6 813.9 450.2C811.6 449 809 448.2 806.7 448.3L757 476.8L750.9 482.3C748.6 484.6 747.6 485.6 746.1 486.5C743 489 740 490.8 736.4 491.4C733.4 491.8 730.6 491.4 727.9 490.2C723.6 487.6 721 484.6 719.4 480.5C717.4 476 716.4 471 716.4 465.9C716.6 460 718.4 455.4 721.8 452.6L766.1 428.3C768.6 428 770.4 429.4 771.5 431.4C772.7 428.3 771 425 767.9 422.9C765.6 421.4 763 420.4 760.6 420.5Z" fill="#fff" stroke="#000" stroke-width="1.1"/>
<path d="M715.8 499.9C719.4 503.8 723 506 727.9 506.8C732 507.3 736 506.4 740 504.4C744.4 502 748 499.4 752.1 496.4L765.5 485.5L813.9 457" fill="none" stroke="#000" stroke-width="1.1"/>
<path d="M721.8 452.6L766.1 428.3" fill="none" stroke="#000" stroke-width="1.71"/>
<path d="M714.5 447.1L721.8 452.6M707.9 459.2L717 462.3M750.9 482.3L758.2 486.5M760.6 476.7L767.9 479.2" fill="none" stroke="#000" stroke-width="0.85"/>
<path d="M766.1 428.3C767.4 426.6 769.6 426.6 770.6 428.4M767.9 422.9L764 425.6" fill="none" stroke="#000" stroke-width="0.85"/>
<path d="M808 449.6L815 453.6C817 454.4 818.6 455.6 819.4 457.4" fill="none" stroke="#000" stroke-width="0.85"/>
<path d="M761.6 488.6L764.6 487.4V483.4" fill="none" stroke="#000" stroke-width="0.98"/>
<path d="M843.9 99.5L833 105.6M829.6 107.5L824.4 110.4M821 112.3L806.8 120.4" fill="none" stroke="#777" stroke-width="0.98"/>
<path d="M823.5 74.9V83.7A30.1 16.1 0 0 0 883.7 83.7V74.9" fill="#fff" stroke="#000" stroke-width="1.34"/>
<ellipse cx="853.6" cy="74.9" rx="30.1" ry="16.1" fill="#fff" stroke="#000" stroke-width="1.34"/>
<ellipse cx="853.6" cy="75.1" rx="28" ry="14.9" fill="none" stroke="#000" stroke-width="0.85"/>
<ellipse cx="853.3" cy="75.2" rx="10.1" ry="6" fill="none" stroke="#000" stroke-width="0.98"/>
<circle cx="853.3" cy="75.2" r="1" fill="#000"/>
<path d="M883.4 79.3A30.1 16.1 0 0 1 823.8 79.3" fill="none" stroke="#000" stroke-width="0.73"/>
<path d="M824.2 80.4V87M825.3 82.6V89.2M827.5 85.2V91.8M830.5 87.4V94M835.1 89.8V96.4M839.5 91.3V97.9M845.3 92.6V99.2M849.9 93.1V99.7M856.2 93.1V99.7M860.9 92.7V99.3M866.8 91.6V98.2M871.3 90.1V96.7M876 87.9V94.5M878.8 85.9V92.5M881.5 83.1V89.7M883 80.4V87" fill="none" stroke="#000" stroke-width="0.73"/>
<path d="M770.9 104.1V112.1A10.9 6.4 0 0 0 792.7 112.1V104.1" fill="#fff" stroke="#000" stroke-width="1.59"/>
<ellipse cx="781.8" cy="104.1" rx="10.9" ry="6.4" fill="#fff" stroke="#000" stroke-width="1.59"/>
<circle cx="781.5" cy="104" r="1" fill="#000"/>
<path d="M771.3 106.3V113.8M772.4 107.8V115.3M774.1 109.1V116.6M787.2 110.1V117.6M790.1 108.7V116.2M791.7 107.3V114.8M792.5 105.9V113.4" fill="none" stroke="#000" stroke-width="0.73"/>
<path d="M780.2 118V111.6H782.7V118" fill="none" stroke="#000" stroke-width="0.98"/>
<path d="M770.9 136.5V141.5A10.2 5.6 0 0 0 788.8 143.6L797.8 138.2V134L791 130.4" fill="#fff" stroke="#000" stroke-width="1.1"/>
<path d="M798.1 134L789.6 138.9V143.2" fill="none" stroke="#000" stroke-width="0.98"/>
<path d="M790.9 137.2A10.2 5.6 0 0 1 770.8 135.8" fill="none" stroke="#000" stroke-width="0.98"/>
<path d="M772 128.5V135A9.5 5.4 0 0 0 791 135V128.5" fill="#fff" stroke="#000" stroke-width="1.1"/>
<path d="M791 135A9.5 5.4 0 0 1 772 135" fill="none" stroke="#000" stroke-width="1.83"/>
<ellipse cx="781.4" cy="128.5" rx="9.4" ry="5.3" fill="#fff" stroke="#000" stroke-width="1.22"/>
<ellipse cx="781.4" cy="128.6" rx="7.7" ry="4.1" fill="none" stroke="#000" stroke-width="0.98"/>
<path d="M774.3 132.1A7.6 4 0 0 1 788.5 132.1" fill="none" stroke="#555" stroke-width="0.73"/>
<path d="M774.5 129.5L785.5 124.2M776 138.6L787.5 131.5M778 134L786 129.5" fill="none" stroke="#777" stroke-width="0.73"/>
<path d="M774.5 159.3V162.5A6.9 4.2 0 0 0 788.3 162.5V159.3" fill="#fff" stroke="#000" stroke-width="1.22"/>
<ellipse cx="781.4" cy="159.3" rx="6.9" ry="4.2" fill="#fff" stroke="#000" stroke-width="1.22"/>
<ellipse cx="781.4" cy="158.9" rx="3.9" ry="1.9" fill="none" stroke="#000" stroke-width="1.1"/>
<path d="M778 159.4A3.6 1.6 0 0 1 784.8 159.4" fill="none" stroke="#000" stroke-width="0.73"/>
<path d="M978.6 142.5L1047.5 102.3M979.3 143.7L1048.2 103.5" fill="none" stroke="#000" stroke-width="1.4"/>
<ellipse cx="978" cy="143.3" rx="3.8" ry="2.7" fill="#fff" stroke="#000" stroke-width="1.71"/>
<ellipse cx="978" cy="143.3" rx="2" ry="1.3" fill="none" stroke="#000" stroke-width="0.85"/>
<ellipse cx="1048.2" cy="102.8" rx="3.8" ry="2.7" fill="#fff" stroke="#000" stroke-width="1.71"/>
<ellipse cx="1048.2" cy="102.8" rx="2" ry="1.3" fill="none" stroke="#000" stroke-width="0.85"/>
<path d="M631.5 535.6C637 534.5 642 540 641.9 546C641.8 552 637 557.5 630.8 556.6" fill="#fff" stroke="#000" stroke-width="1.1"/>
<path d="M634.5 540.5C637.2 544 637.5 550 634.8 554.6" fill="none" stroke="#000" stroke-width="1.95"/>
<path d="M604.2 553.3L609.4 569.4V576.3A7.7 3.4 0 0 0 624.7 576.3V569.4L628.4 554.6Z" fill="#fff" stroke="#000" stroke-width="1.1"/>
<path d="M624.6 569.4A7.7 2.8 0 0 1 609.4 569.4" fill="none" stroke="#000" stroke-width="1.1"/>
<path d="M600.4 544V549L603.3 553.3L609.6 555.3L617.2 555.9L624 555.2L629.6 553.6L632.8 549.4V544" fill="#fff" stroke="#000" stroke-width="1.1"/>
<path d="M603.3 548.4V553.3M609.4 550.2V555.3M618.2 551V555.8M620.8 551V555.6M627.2 549.8V554.4M631.8 546.5V550.6" fill="none" stroke="#000" stroke-width="0.85"/>
<ellipse cx="616.6" cy="543.4" rx="16.2" ry="5.4" fill="#fff" stroke="#000" stroke-width="1.22"/>
<path d="M632.8 545.6A16.2 5.4 0 0 1 600.4 545.6" fill="none" stroke="#000" stroke-width="0.98"/>
<path d="M630.2 541A13.6 4.6 0 1 1 603.4 541" fill="none" stroke="#000" stroke-width="0.85"/>
<path d="M604.2 528.7L608.3 526.6L629.7 530.4V538.2L617.2 545.5L604.6 536.9Z" fill="#fff" stroke="#000" stroke-width="1.22"/>
<path d="M604.6 530.2L617.6 537.7L629.4 531.4M617.6 537.7V545.2M615.6 536.8V544.3M619.8 536.6V543.8" fill="none" stroke="#000" stroke-width="0.98"/>
<path d="M606.6 528.6L618 535.2M609 527.6L620.2 534M618 535.2L628 530.6" fill="none" stroke="#000" stroke-width="0.73"/>
<path d="M603.1 495.6C603 493.3 604.6 492 606.2 492.6L630.2 506.2C631.4 507 631.3 508.6 630.8 510.6C630.3 512.2 629.2 512.6 628 512L604 498.6C603.3 498 603.1 497 603.1 495.6Z" fill="#fff" stroke="#000" stroke-width="1.59"/>
<path d="M604.6 495.2L629.6 509.2" fill="none" stroke="#000" stroke-width="0.85"/>
<path d="M604.3 499L609 527M610.3 502.5L614 523M606.8 500.5L611.5 525.6" fill="none" stroke="#000" stroke-width="1.1"/>
<path d="M628.3 512L626.4 531M623.6 509.8L621.3 526.5M626 511L624 529" fill="none" stroke="#000" stroke-width="1.1"/>
<path d="M609 527L614 523L621.3 526.5M612.5 523.8L620.5 528.4L619.4 531.6M614 523L614.6 526.6" fill="none" stroke="#000" stroke-width="0.98"/>
<path d="M782 50.9L824.4 59.9" stroke="#000" stroke-width="0.85" fill="none"/>
<path d="M836.6 62.5L823.9 62.3L824.9 57.5Z" fill="#000" stroke="none"/>
<path d="M717.8 95.2L758.4 101.9" stroke="#000" stroke-width="0.85" fill="none"/>
<path d="M770.7 104L758 104.4L758.8 99.5Z" fill="#000" stroke="none"/>
<path d="M716.6 160.2L761.2 136.9" stroke="#000" stroke-width="0.85" fill="none"/>
<path d="M772.3 131.1L762.4 139.1L760.1 134.7Z" fill="#000" stroke="none"/>
<path d="M713 217.4L765.4 170.4" stroke="#000" stroke-width="0.85" fill="none"/>
<path d="M774.7 162L767.1 172.2L763.7 168.5Z" fill="#000" stroke="none"/>
<path d="M679 306.6L764.8 270.4" stroke="#000" stroke-width="0.85" fill="none"/>
<path d="M776.3 265.5L765.8 272.7L763.8 268.1Z" fill="#000" stroke="none"/>
<path d="M680 377.4L767 361.1" stroke="#000" stroke-width="0.85" fill="none"/>
<path d="M779.3 358.8L767.5 363.6L766.6 358.6Z" fill="#000" stroke="none"/>
<path d="M1015.6 81.2L1023.7 100.9" stroke="#000" stroke-width="0.85" fill="none"/>
<path d="M1028.5 112.5L1021.4 101.9L1026 100Z" fill="#000" stroke="none"/>
<path d="M989.3 181.5L922.1 160.5" stroke="#000" stroke-width="0.85" fill="none"/>
<path d="M910.2 156.8L922.9 158.1L921.4 162.9Z" fill="#000" stroke="none"/>
<path d="M677.6 490L763.7 524.1" stroke="#000" stroke-width="0.85" fill="none"/>
<path d="M775.3 528.7L762.8 526.4L764.6 521.8Z" fill="#000" stroke="none"/>
<path d="M552 531.6L589.4 542.7" stroke="#000" stroke-width="0.85" fill="none"/>
<path d="M601.4 546.3L588.7 545.1L590.1 540.3Z" fill="#000" stroke="none"/>
<path d="M713 559.6L787.7 602.1" stroke="#000" stroke-width="0.85" fill="none"/>
<circle cx="787.7" cy="602.1" r="1.1" fill="#000"/>
<path d="M601.6 673.6L690 647.2" stroke="#000" stroke-width="0.85" fill="none"/>
<path d="M702 643.6L690.7 649.6L689.3 644.8Z" fill="#000" stroke="none"/>
<g stroke="#000" stroke-width="0.9" fill="#fff">
<circle cx="762.5" cy="46.8" r="19.5"/>
<circle cx="698.8" cy="91.8" r="19.5"/>
<circle cx="698.8" cy="168.5" r="19.5"/>
<circle cx="698.8" cy="231.3" r="19.5"/>
<circle cx="660.8" cy="314.3" r="19.5"/>
<circle cx="660.8" cy="381.3" r="19.5"/>
<circle cx="1008" cy="63.8" r="19.5"/>
<circle cx="1008" cy="187.5" r="19.5"/>
<circle cx="661" cy="480.5" r="19.5"/>
<circle cx="533" cy="527.5" r="19.5"/>
<circle cx="699" cy="546.5" r="19.5"/>
<circle cx="583" cy="680.5" r="19.5"/>
</g>
<g font-family='"Liberation Sans", sans-serif' fill="#222">
<text x="762.5" y="53.2" font-size="17.8" text-anchor="middle">7</text>
<text x="698.8" y="98.2" font-size="17.8" text-anchor="middle">6</text>
<text x="698.8" y="174.9" font-size="17.8" text-anchor="middle">4</text>
<text x="698.8" y="237.7" font-size="17.8" text-anchor="middle">5</text>
<text x="660.8" y="320.7" font-size="17.8" text-anchor="middle">3</text>
<text x="660.8" y="387.7" font-size="17.8" text-anchor="middle">2</text>
<text x="1008" y="70.2" font-size="17.8" text-anchor="middle">9</text>
<text x="1008" y="193.9" font-size="17.8" text-anchor="middle">8</text>
<text x="661" y="486.9" font-size="17.8" text-anchor="middle">10</text>
<text x="533" y="533.9" font-size="17.8" text-anchor="middle">1</text>
<text x="699" y="552.9" font-size="17.8" text-anchor="middle">11</text>
<text x="583" y="686.9" font-size="17.8" text-anchor="middle">12</text>
</g>
</svg>
</body></html>
